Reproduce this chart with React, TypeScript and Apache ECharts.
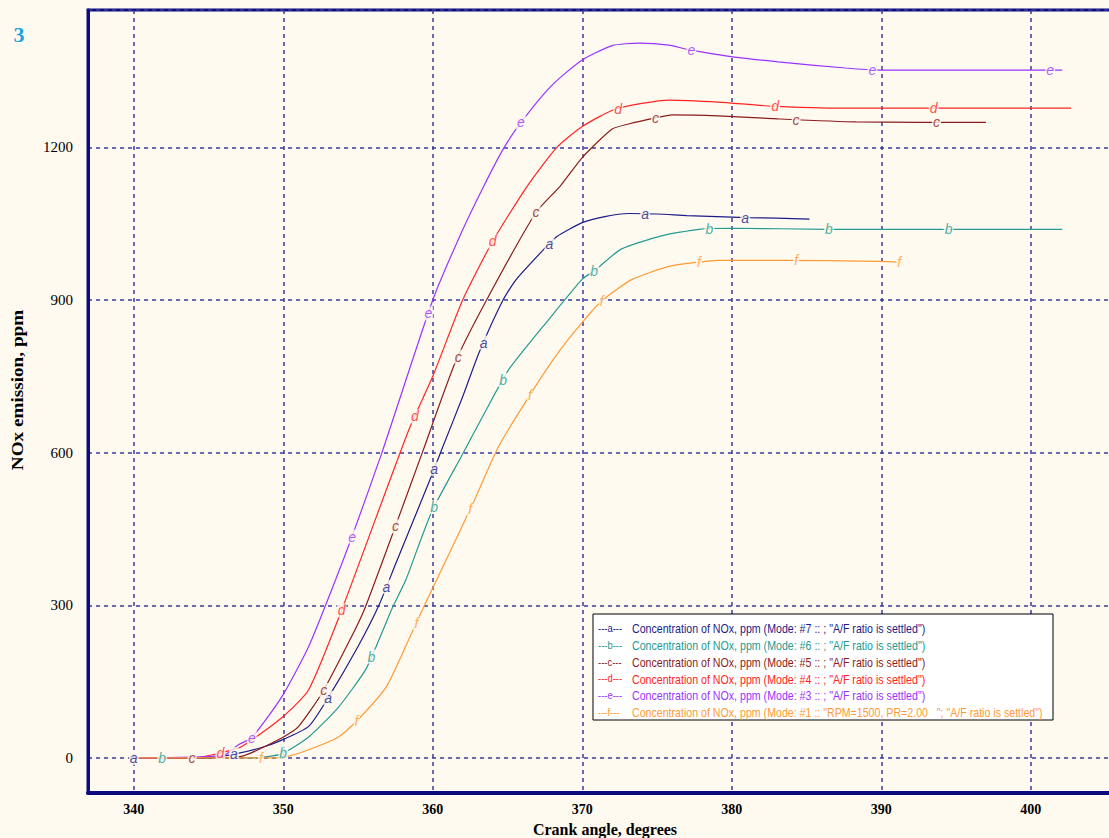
import React, { useEffect, useRef } from "react";
import * as echarts from "echarts";

// Crank angle (degrees) and NOx (ppm) samples, per curve
const anglesA = [340, 345, 346.8, 348.5, 349.9, 351.7, 353, 355, 356.4, 357.5, 359.9, 360.6, 362, 363.1, 364.7, 365.6, 367.6, 368.3, 370, 371.5, 373.1, 375, 377, 379, 381, 383, 385.2];
const noxA = [0, 0, 8, 20, 35, 62, 118, 219, 300, 380, 553, 606, 710, 797, 900, 941, 1005, 1025, 1052, 1064, 1070, 1069, 1066, 1064, 1062, 1061, 1059];

const anglesB = [340, 348, 349.9, 351.7, 353.7, 355.5, 356.4, 357.3, 358.2, 359.9, 361.9, 363.5, 365.1, 367.6, 370, 370.8, 372.6, 375.3, 377.8, 380, 386.5, 394.5, 402.1];
const noxB = [0, 0, 8, 41, 100, 173, 232, 295, 350, 482, 592, 680, 764, 856, 941, 957, 1000, 1026, 1039, 1041, 1039, 1039, 1039];

const anglesC = [340, 345, 347.2, 349.9, 351, 352.6, 354.8, 355.5, 357.5, 359.3, 361.5, 363.6, 366.9, 368.5, 370, 372, 373.1, 374.9, 376, 379.1, 383.1, 388.3, 397];
const noxC = [0, 0, 3, 39, 61, 128, 252, 297, 455, 600, 777, 900, 1072, 1123, 1180, 1236, 1246, 1258, 1264, 1262, 1256, 1250, 1249];

const anglesD = [340, 344, 345.8, 347.2, 349.9, 351.7, 353.9, 358.4, 360, 362, 364, 366.3, 368.3, 370, 372.2, 375.8, 379.1, 382.7, 387.6, 402.7];
const noxD = [0, 0, 10, 22, 79, 134, 290, 645, 750, 900, 1015, 1123, 1200, 1241, 1275, 1293, 1289, 1281, 1277, 1277];

const anglesE = [340, 346, 347, 347.9, 349.9, 351.7, 353.5, 354.6, 356.6, 360, 361.8, 363.4, 364.7, 365.9, 367.9, 369.9, 372, 373.8, 375.8, 377.1, 379.6, 383.1, 387.6, 389.8, 402.1];
const noxE = [0, 5, 26, 40, 120, 219, 350, 435, 600, 900, 1025, 1123, 1196, 1249, 1320, 1370, 1400, 1405, 1401, 1392, 1380, 1368, 1356, 1352, 1352];

const anglesF = [340, 349.5, 350.2, 351.7, 353.7, 355, 356.9, 358.6, 359.4, 362.7, 364.4, 366.6, 368.4, 370, 371.3, 373.3, 375.8, 377.6, 379.1, 383.1, 389.8, 391.4];
const noxF = [0, 0, 2, 16, 41, 75, 140, 246, 297, 501, 612, 718, 797, 856, 898, 940, 966, 974, 978, 978, 976, 974];

// Angles where the curve letters are written on the lines
const labelsA = [340, 346.7, 353, 356.9, 360.1, 363.4, 367.8, 374.2, 380.9];
const labelsB = [341.9, 350, 355.9, 360.1, 364.7, 370.8, 378.5, 386.5, 394.5];
const labelsC = [343.9, 352.7, 357.5, 361.7, 366.9, 374.9, 384.3, 393.7];
const labelsD = [345.8, 353.9, 358.8, 364, 372.4, 382.9, 393.5];
const labelsE = [347.9, 354.6, 359.7, 365.9, 377.3, 389.4, 401.3];
const labelsF = [348.5, 354.9, 358.9, 362.5, 366.5, 371.3, 377.8, 384.3, 391.2];

const curveKeys = ["a", "b", "c", "d", "e", "f"];
const curveNames = [
  'Concentration of NOx, ppm (Mode: #7 :: ; "A/F ratio is settled")',
  'Concentration of NOx, ppm (Mode: #6 :: ; "A/F ratio is settled")',
  'Concentration of NOx, ppm (Mode: #5 :: ; "A/F ratio is settled")',
  'Concentration of NOx, ppm (Mode: #4 :: ; "A/F ratio is settled")',
  'Concentration of NOx, ppm (Mode: #3 :: ; "A/F ratio is settled")',
  'Concentration of NOx, ppm (Mode: #1 :: "RPM=1500, PR=2.00   "; "A/F ratio is settled")',
];
const curveColors = ["#1c1c88", "#239a92", "#8b1c1c", "#ff2424", "#9a33ff", "#ff9a33"];
const curveAngles = [anglesA, anglesB, anglesC, anglesD, anglesE, anglesF];
const curveValues = [noxA, noxB, noxC, noxD, noxE, noxF];
const curveLabels = [labelsA, labelsB, labelsC, labelsD, labelsE, labelsF];

const BG = "#fffaf0";
const NAVY = "#0c0c80";
const GRIDLINE = "#3a3a9c";
const SERIF = "Liberation Serif, Times New Roman, serif";
const SANS = "Liberation Sans, Arial, sans-serif";

function valueAt(xs: number[], ys: number[], x: number): number {
  if (x <= xs[0]) return ys[0];
  for (let i = 1; i < xs.length; i++) {
    if (x <= xs[i]) {
      const t = (x - xs[i - 1]) / (xs[i] - xs[i - 1]);
      return ys[i - 1] + t * (ys[i] - ys[i - 1]);
    }
  }
  return ys[ys.length - 1];
}

export default function App() {
  const ref = useRef<HTMLDivElement>(null);

  useEffect(() => {
    if (!ref.current) return;
    const chart = echarts.init(ref.current, null, { renderer: "svg" });

    const lineSeries = curveKeys.map((k, i) => ({
      type: "line",
      name: curveNames[i],
      data: curveAngles[i].map((a, j) => [a, curveValues[i][j]]),
      showSymbol: false,
      smooth: 0.2,
      lineStyle: { color: curveColors[i], width: 1.2 },
      itemStyle: { color: curveColors[i] },
      z: 3,
      silent: true,
    }));

    const labelSeries = curveKeys.map((k, i) => ({
      type: "scatter",
      name: "label-" + k,
      data: curveLabels[i].map((a) => [a, valueAt(curveAngles[i], curveValues[i], a)]),
      symbol: "circle",
      symbolSize: 1,
      itemStyle: { color: "rgba(0,0,0,0)" },
      silent: true,
      z: 5,
      label: {
        show: true,
        position: "inside",
        formatter: k,
        color: curveColors[i],
        fontStyle: "italic",
        fontFamily: SANS,
        fontSize: 14,
        backgroundColor: BG,
        padding: [0, 1, 0, 1],
      },
      labelLayout: { hideOverlap: false },
    }));

    // Legend box drawn as a graphic group (narrow-looking text)
    const legendLeft = 593;
    const legendTop = 614;
    const legendItems: any[] = [
      {
        type: "rect",
        shape: { x: legendLeft, y: legendTop, width: 460, height: 106 },
        style: { fill: "#ffffff", stroke: "#000000", lineWidth: 1 },
        z: 10,
      },
    ];
    curveNames.forEach((n, i) => {
      const y = legendTop + 14 + i * 16.9;
      legendItems.push({
        type: "text",
        x: legendLeft + 5,
        y,
        scaleX: 0.86,
        z: 11,
        style: {
          text: `---${curveKeys[i]}---`,
          fontFamily: SANS,
          fontSize: 11,
          fill: curveColors[i],
          align: "left",
          verticalAlign: "middle",
        },
      });
      legendItems.push({
        type: "text",
        x: legendLeft + 39,
        y,
        scaleX: 0.85,
        z: 11,
        style: {
          text: n,
          fontFamily: SANS,
          fontSize: 12.5,
          fill: curveColors[i],
          align: "left",
          verticalAlign: "middle",
        },
      });
    });

    chart.setOption({
      animation: false,
      backgroundColor: BG,
      grid: {
        left: 88,
        top: 10,
        right: -13,
        bottom: 45,
        show: true,
        borderColor: NAVY,
        borderWidth: 3,
        backgroundColor: BG,
        outerBoundsMode: "none",
        containLabel: false,
      },
      xAxis: {
        type: "value",
        min: 336.94,
        max: 406.1,
        splitNumber: 7,
        name: "Crank angle, degrees",
        nameLocation: "middle",
        nameGap: 28,
        nameTextStyle: {
          fontFamily: SERIF,
          fontWeight: "bold",
          fontSize: 16,
          color: "#000",
        },
        axisLine: { show: true, onZero: false, lineStyle: { color: NAVY, width: 4 } },
        axisTick: { show: false },
        axisLabel: {
          showMinLabel: false,
          showMaxLabel: false,
          margin: 9,
          fontFamily: SERIF,
          fontWeight: "bold",
          fontSize: 14,
          color: "#000",
          formatter: (v: number) => String(Math.round(v)),
        },
        splitLine: { show: true, lineStyle: { color: GRIDLINE, type: [4, 4], width: 1.5 } },
      },
      yAxis: {
        type: "value",
        min: -69,
        max: 1470,
        splitNumber: 5,
        axisLine: { show: true, onZero: false, lineStyle: { color: NAVY, width: 3 } },
        axisTick: { show: false },
        axisLabel: {
          showMinLabel: false,
          showMaxLabel: false,
          margin: 15,
          fontFamily: SERIF,
          fontSize: 15,
          color: "#000",
          formatter: (v: number) => String(Math.round(v)),
        },
        splitLine: { show: true, lineStyle: { color: GRIDLINE, type: [4, 4], width: 1.5 } },
      },
      graphic: [
        {
          type: "text",
          x: 18,
          y: 390,
          rotation: Math.PI / 2,
          scaleX: 1.2,
          style: {
            text: "NOx emission, ppm",
            fontFamily: SERIF,
            fontWeight: "bold",
            fontSize: 16,
            fill: "#000",
            align: "center",
            verticalAlign: "middle",
          },
        },
        {
          type: "text",
          x: 19,
          y: 34,
          style: {
            text: "3",
            fontFamily: SERIF,
            fontWeight: "bold",
            fontSize: 22,
            fill: "#1aa3e8",
            align: "center",
            verticalAlign: "middle",
          },
        },
        ...legendItems,
      ],
      series: [...lineSeries, ...labelSeries],
    });

    return () => chart.dispose();
  }, []);

  return (
    <div
      ref={ref}
      style={{ position: "fixed", left: 0, top: 0, width: 1109, height: 838 }}
    />
  );
}
